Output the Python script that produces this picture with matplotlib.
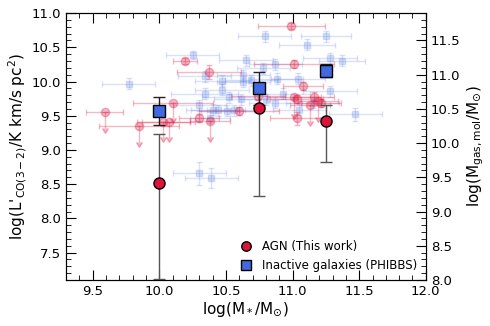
import numpy as np
import matplotlib
matplotlib.use("Agg")
import matplotlib.pyplot as plt
from matplotlib.ticker import MultipleLocator

# Background AGN sample (faint red)
agn_bg_x = [9.59, 9.85, 10.10, 10.03, 10.07, 10.19, 10.30, 10.37, 10.38, 10.60, 10.74,
            10.99, 11.01, 11.08, 11.01, 11.03, 11.16, 11.19, 11.21, 11.13, 11.03]
agn_bg_y = [9.55, 9.35, 9.69, 9.41, 9.41, 10.30, 9.47, 10.14, 9.42, 9.57, 9.79,
            10.81, 10.25, 9.94, 9.77, 9.74, 9.78, 9.72, 9.69, 9.65, 9.46]
agn_bg_xerr = [0.14, 0.30, 0.30, 0.20, 0.20, 0.09, 0.15, 0.24, 0.15, 0.30, 0.20,
               0.25, 0.30, 0.15, 0.20, 0.20, 0.15, 0.15, 0.15, 0.15, 0.20]
agn_bg_yerr = [0.23, 0.23, 0.23, 0.22, 0.22, 0.05, 0.06, 0.10, 0.23, 0.06, 0.06,
               0.05, 0.06, 0.06, 0.24, 0.06, 0.06, 0.24, 0.06, 0.23, 0.10]
agn_bg_uplim = [True, True, True, True, True, False, False, False, True, False, False,
                False, False, False, True, False, False, True, False, True, False]

# Inactive galaxies (PHIBBS, faint blue)
phb_x = [9.77, 10.25, 10.34, 10.34, 10.30, 10.38, 10.40, 10.44, 10.51, 10.56, 10.47, 10.47,
         10.52, 10.61, 10.63, 10.63, 10.65, 10.69, 10.78, 10.79, 10.80, 10.87, 10.87, 10.88,
         10.93, 11.04, 11.05, 11.11, 11.15, 11.25, 11.28, 11.28, 11.37, 11.47, 10.30, 10.39]
phb_y = [9.97, 10.385, 10.08, 9.82, 9.65, 9.47, 9.59, 9.58, 9.57, 9.58, 10.01, 9.88,
         9.77, 9.74, 10.09, 9.995, 10.31, 10.02, 10.19, 10.66, 9.74, 9.69, 10.25, 10.04,
         9.82, 10.04, 9.59, 10.54, 9.69, 10.66, 10.34, 9.86, 10.30, 9.52, 8.66, 8.59]
phb_xerr = [0.20, 0.20, 0.20, 0.25, 0.20, 0.15, 0.20, 0.20, 0.20, 0.20, 0.20, 0.20,
            0.20, 0.20, 0.20, 0.20, 0.20, 0.20, 0.20, 0.20, 0.20, 0.20, 0.20, 0.20,
            0.20, 0.20, 0.20, 0.21, 0.20, 0.19, 0.20, 0.20, 0.17, 0.20, 0.20, 0.20]
phb_yerr = [0.08, 0.06, 0.08, 0.08, 0.08, 0.08, 0.08, 0.08, 0.08, 0.08, 0.08, 0.08,
            0.08, 0.08, 0.08, 0.08, 0.08, 0.08, 0.08, 0.08, 0.08, 0.08, 0.08, 0.08,
            0.08, 0.08, 0.08, 0.08, 0.08, 0.08, 0.08, 0.08, 0.08, 0.10, 0.17, 0.15]

# Binned means
agn_x = [10.0, 10.75, 11.25]
agn_y = [8.52, 9.61, 9.43]
agn_err_lo = [1.40, 1.28, 0.60]
agn_err_hi = [0.72, 0.25, 0.22]

inact_x = [10.0, 10.75, 11.25]
inact_y = [9.57, 9.90, 10.155]
inact_err_lo = [0.20, 0.24, 0.09]
inact_err_hi = [0.20, 0.24, 0.10]

RED = "#DC143C"
BLUE = "#4169E1"

fig = plt.figure(figsize=(4.9, 3.26), dpi=100)
ax = fig.add_axes([0.1347, 0.141, 0.7343, 0.819])

ax.errorbar(phb_x, phb_y, xerr=phb_xerr, yerr=phb_yerr, fmt='s', color=BLUE,
            ms=4.5, alpha=0.2, capsize=2, elinewidth=1, zorder=1)
ax.errorbar(agn_bg_x, agn_bg_y, xerr=agn_bg_xerr, yerr=agn_bg_yerr, uplims=agn_bg_uplim,
            fmt='o', color=RED, ms=6, alpha=0.3, capsize=2.5, elinewidth=1, zorder=2)

ax.errorbar(agn_x, agn_y, yerr=[agn_err_lo, agn_err_hi], fmt='none', ecolor='#555555',
            elinewidth=1, capsize=4, zorder=3)
ax.errorbar(inact_x, inact_y, yerr=[inact_err_lo, inact_err_hi], fmt='none', ecolor='#222222',
            elinewidth=1, capsize=4, zorder=3)
ax.plot(agn_x, agn_y, 'o', color=RED, mec='black', mew=1, ms=8, zorder=5,
        label='AGN (This work)')
ax.plot(inact_x, inact_y, 's', color=BLUE, mec='black', mew=1, ms=8, zorder=5,
        label='Inactive galaxies (PHIBBS)')

ax.set_xlim(9.3, 12.0)
ax.set_ylim(7.1, 11.0)
ax.xaxis.set_major_locator(MultipleLocator(0.5))
ax.xaxis.set_minor_locator(MultipleLocator(0.1))
ax.yaxis.set_major_locator(MultipleLocator(0.5))
ax.yaxis.set_minor_locator(MultipleLocator(0.1))
ax.tick_params(which='both', direction='in', top=True, right=False, labelsize=9.5)
ax.tick_params(which='major', length=7)
ax.tick_params(which='minor', length=3.5)

ax.set_xlabel(r'log(M$_*$/M$_{\odot}$)', fontsize=11, labelpad=2)
ax.set_ylabel(r"log(L$'_{\rm CO(3-2)}$/K km/s pc$^2$)", fontsize=11, labelpad=2)

ax2 = ax.twinx()
ax2.set_ylim(8.0, 11.9)
ax2.yaxis.set_major_locator(MultipleLocator(0.5))
ax2.yaxis.set_minor_locator(MultipleLocator(0.1))
ax2.tick_params(which='both', direction='in', labelsize=9.5)
ax2.tick_params(which='major', length=7)
ax2.tick_params(which='minor', length=3.5)
ax2.set_ylabel(r'log(M$_{\rm gas,mol}$/M$_{\odot}$)', fontsize=11, labelpad=4)

ax.legend(loc='lower right', frameon=False, fontsize=8.5, markerscale=0.85,
          handletextpad=0.4, borderaxespad=0.3, labelspacing=0.5)

fig.savefig('out.png', dpi=100)
